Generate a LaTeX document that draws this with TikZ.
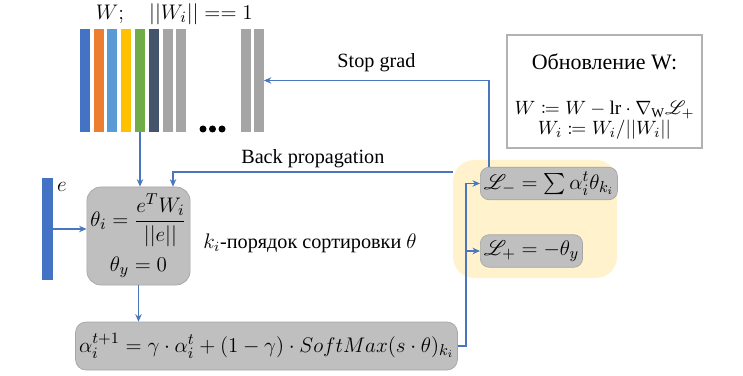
\documentclass[tikz,border=0pt]{standalone}
\usepackage{amsmath}
\usepackage{mathtools}
\usepackage{mathrsfs}
\usepackage{fontspec}
\setmainfont{Liberation Serif}
\usepackage{tikz}
\usetikzlibrary{arrows.meta,positioning,calc}
\definecolor{barblue}{HTML}{4472C4}
\definecolor{barorange}{HTML}{ED7D31}
\definecolor{barsky}{HTML}{5B9BD5}
\definecolor{baryellow}{HTML}{FFC000}
\definecolor{bargreen}{HTML}{70AD47}
\definecolor{barslate}{HTML}{44546A}
\definecolor{bargray}{HTML}{A5A5A5}
\definecolor{linkblue}{HTML}{4A76BE}
\definecolor{lossyellow}{HTML}{FFF2CC}

\begin{document}
\begin{tikzpicture}[
  x=0.2mm, y=-0.2mm,
  font=\fontsize{11.5}{13}\selectfont,
  bar/.style={minimum width=2mm, minimum height=20.6mm, inner sep=0pt},
  eq/.style={font=\fontsize{13}{15}\selectfont},
  calcbox/.style={draw=black!35, fill=black!25, rounded corners=8pt,
                  align=center, inner sep=2pt, eq},
  lossbox/.style={calcbox, rounded corners=5pt, minimum height=6.5mm,
                  anchor=west, inner xsep=2pt},
  arr/.style={-{Stealth[length=1.5mm,width=1.3mm]}, draw=linkblue, line width=0.6pt}
]
\useasboundingbox (0,0) rectangle (743,376);

% weight matrix W
\foreach \c [count=\i] in {barblue,barorange,barsky,baryellow,bargreen,barslate,bargray,bargray}
  \node[bar, fill=\c] (b\i) at (71+13.8*\i,80.5) {};
\node[bar, fill=bargray] (g1) at (245.5,80.5) {};
\node[bar, fill=bargray] (g2) at (258.5,80.5) {};
\foreach \x in {203,212.5,222}
  \fill (\x,129) circle (0.7mm);
\node[eq] (wlabel) at (110,14) {$W;$};
\node[eq] (normlabel) at (201,14) {$||W_i|| == 1$};

% embedding e
\node[bar, fill=barblue, minimum width=2.2mm, minimum height=20.4mm] (evec) at (47.5,229) {};
\node (elabel) at (62,187) {$e$};

\node[calcbox, minimum width=19.4mm, minimum height=19.6mm] (theta) at (138.5,236)
  {$\theta_i = \dfrac{e^T W_i}{||e||}$\\[5pt] $\theta_y = 0$};
\node[calcbox, rounded corners=6pt, minimum width=74.6mm, minimum height=9.6mm,
      font=\fontsize{12.5}{14}\selectfont] (alpha) at (266.5,346)
  {$\alpha_i^{t+1} = \gamma\cdot\alpha_i^t + (1-\gamma)\cdot SoftMax(s\cdot\theta)_{k_i}$};
\node (order) at (310,243) {$k_i$-порядок сортировки $\theta$};

% losses
\node[fill=lossyellow, rounded corners=12pt, minimum width=32.8mm, minimum height=23.6mm] (lossbg) at (535,219) {};
\node[lossbox] (lminus) at (480,183.5) {$\mathscr{L}_- = \sum\alpha_i^t\theta_{k_i}$};
\node[lossbox] (lplus) at (480,251) {$\mathscr{L}_+ = -\theta_y$};

% update rule
\node[draw=black!30, line width=0.8pt, minimum width=39mm, minimum height=22.6mm] (updbox) at (604.5,91.5) {};
\node[font=\fontsize{12.5}{14}\selectfont] (updtitle) at (604.5,62) {Обновление W:};
\node[font=\fontsize{11}{13}\selectfont, inner sep=0pt] (upd1) at (604.5,110) {$W \coloneqq W - \mathrm{lr}\cdot\nabla_{\mathrm{W}}\mathscr{L}_+$};
\node[font=\fontsize{11}{13}\selectfont, inner sep=0pt] (upd2) at (604.5,130) {$W_i \coloneqq W_i/||W_i||$};

% connectors
\coordinate (fork) at (466,346);
\draw[arr] (b5.south) -- (b5.south |- theta.north);
\draw[arr] (evec.east) -- (evec.east -| theta.west);
\draw[arr] (theta.south) -- (theta.south |- alpha.north);
\draw[arr] (alpha.east) -- (fork) |- (lminus.west);
\draw[arr] (fork |- lplus.west) -- (lplus.west);
\draw[arr] ($(lminus.north west)+(9,0)$) |- node[pos=0.75, above=1pt] {Stop grad} (g2.east);
\draw[arr] ($(lossbg.west)+(0,-47)$) -| node[pos=0.25, above=-1pt] {Back propagation} ($(theta.north)+(34.5,0)$);
\end{tikzpicture}
\end{document}
